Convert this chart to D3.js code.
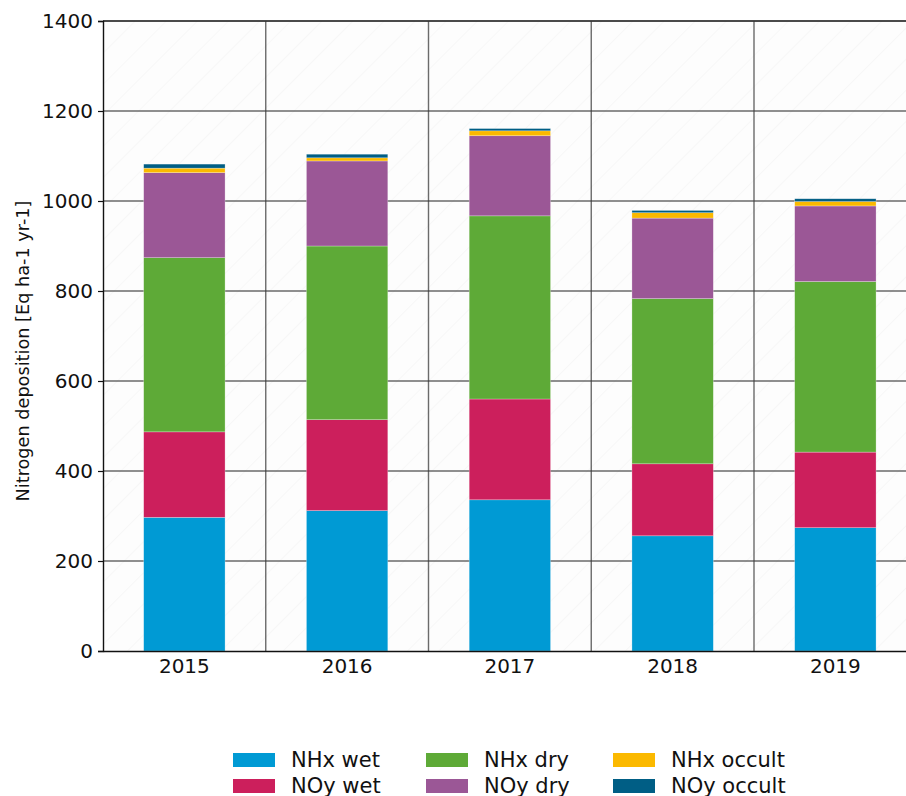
<!DOCTYPE html>
<html>
<head>
<meta charset="utf-8">
<script src="https://cdn.jsdelivr.net/npm/d3@7"></script>
<style>
  html, body { margin: 0; padding: 0; background: #ffffff; overflow: hidden; }
  svg { display: block; font-family: "DejaVu Sans", sans-serif; }
</style>
</head>
<body>
<svg id="chart" width="906" height="796"></svg>
<script>
// Nitrogen deposition per year, split by component (Eq ha-1 yr-1)
const years = ["2015", "2016", "2017", "2018", "2019"];
const nhxWet    = [297, 312, 336, 256, 274];
const noyWet    = [190, 202, 224, 160, 168];
const nhxDry    = [387, 386, 407, 367, 379];
const noyDry    = [189, 189, 178, 179, 168];
const nhxOccult = [10, 7, 11, 12, 10];
const noyOccult = [9, 8, 5, 5, 6];

const seriesNames  = ["NHx wet", "NOy wet", "NHx dry", "NOy dry", "NHx occult", "NOy occult"];
const seriesColors = ["#009ad4", "#cc1f5c", "#5eaa37", "#9b5796", "#fbb900", "#005e85"];
const yTicks = [0, 200, 400, 600, 800, 1000, 1200, 1400];

const table = years.map((y, i) => ({
  year: y,
  "NHx wet": nhxWet[i],
  "NOy wet": noyWet[i],
  "NHx dry": nhxDry[i],
  "NOy dry": noyDry[i],
  "NHx occult": nhxOccult[i],
  "NOy occult": noyOccult[i]
}));

const svg = d3.select("#chart");
const margin = { left: 103, top: 21, bottom: 651 };
const plotRight = 103 + 5 * 162.75;

const x = d3.scaleBand().domain(years).range([margin.left, plotRight]).paddingInner(0).paddingOuter(0);
const y = d3.scaleLinear().domain([0, 1400]).range([margin.bottom, margin.top]);
const color = d3.scaleOrdinal().domain(seriesNames).range(seriesColors);

// plot background with a faint diagonal texture
const defs = svg.append("defs");
const pat = defs.append("pattern")
  .attr("id", "bgHatch")
  .attr("patternUnits", "userSpaceOnUse")
  .attr("width", 22).attr("height", 22)
  .attr("patternTransform", "rotate(-45)");
pat.append("rect").attr("width", 22).attr("height", 22).attr("fill", "#fdfdfd");
pat.append("line").attr("x1", 0).attr("y1", 0).attr("x2", 22).attr("y2", 0)
  .attr("stroke", "#f7f7f7").attr("stroke-width", 2);

svg.append("rect")
  .attr("x", margin.left).attr("y", margin.top)
  .attr("width", plotRight - margin.left).attr("height", margin.bottom - margin.top)
  .attr("fill", "url(#bgHatch)");

// grid lines
const grid = svg.append("g").attr("stroke", "#3a3a3a").attr("stroke-opacity", 0.75).attr("stroke-width", 1.4);
grid.selectAll("line.h").data(yTicks.filter(t => t > 0)).join("line")
  .attr("class", "h")
  .attr("x1", margin.left).attr("x2", plotRight)
  .attr("y1", d => y(d)).attr("y2", d => y(d));
grid.selectAll("line.v").data(years.slice(1)).join("line")
  .attr("class", "v")
  .attr("x1", d => x(d)).attr("x2", d => x(d))
  .attr("y1", margin.top).attr("y2", margin.bottom);

// stacked bars
const stack = d3.stack().keys(seriesNames);
const layers = stack(table);
const barW = x.bandwidth() * 0.5;

svg.append("g").selectAll("g").data(layers).join("g")
  .attr("fill", d => color(d.key))
  .selectAll("rect").data(d => d).join("rect")
  .attr("x", d => x(d.data.year) + (x.bandwidth() - barW) / 2)
  .attr("width", barW)
  .attr("y", d => y(d[1]))
  .attr("height", d => y(d[0]) - y(d[1]))
  .attr("stroke", "#ffffff").attr("stroke-opacity", 0.45).attr("stroke-width", 0.6);

// top spine
svg.append("line")
  .attr("x1", margin.left).attr("x2", plotRight)
  .attr("y1", margin.top).attr("y2", margin.top)
  .attr("stroke", "#333").attr("stroke-width", 1.3);

// axes
const yAxis = d3.axisLeft(y).tickValues(yTicks).tickFormat(d3.format("d")).tickSize(5).tickPadding(5);
const gy = svg.append("g").attr("transform", `translate(${margin.left},0)`).call(yAxis);
gy.select(".domain").attr("stroke", "#111").attr("stroke-width", 1.4);
gy.selectAll(".tick line").attr("stroke", "#111").attr("stroke-width", 1.2);
gy.selectAll(".tick text").attr("font-size", 20).attr("fill", "#111")
  .attr("font-family", "DejaVu Sans, sans-serif");

const xAxis = d3.axisBottom(x).tickSize(0).tickPadding(8);
const gx = svg.append("g").attr("transform", `translate(0,${margin.bottom})`).call(xAxis);
gx.select(".domain").attr("stroke", "#111").attr("stroke-width", 1.4);
gx.selectAll(".tick text").attr("font-size", 20).attr("fill", "#111")
  .attr("font-family", "DejaVu Sans, sans-serif");

// y axis title
svg.append("text")
  .attr("transform", `translate(29,${(margin.top + margin.bottom) / 2 + 15}) rotate(-90)`)
  .attr("text-anchor", "middle")
  .attr("font-size", 17.7).attr("fill", "#111")
  .text("Nitrogen deposition [Eq ha-1 yr-1]");

// legend: three columns, two rows
const legendOrder = ["NHx wet", "NHx dry", "NHx occult", "NOy wet", "NOy dry", "NOy occult"];
const colX = [233, 426, 613];
const rowY = [760, 786];
const lg = svg.append("g");
legendOrder.forEach((name, i) => {
  const c = i % 3, r = Math.floor(i / 3);
  lg.append("rect")
    .attr("x", colX[c]).attr("y", rowY[r] - 7)
    .attr("width", 42).attr("height", 14)
    .attr("fill", color(name));
  lg.append("text")
    .attr("x", colX[c] + 58).attr("y", rowY[r])
    .attr("dy", "0.35em")
    .attr("font-size", 21).attr("fill", "#111")
    .text(name);
});
</script>
</body>
</html>
